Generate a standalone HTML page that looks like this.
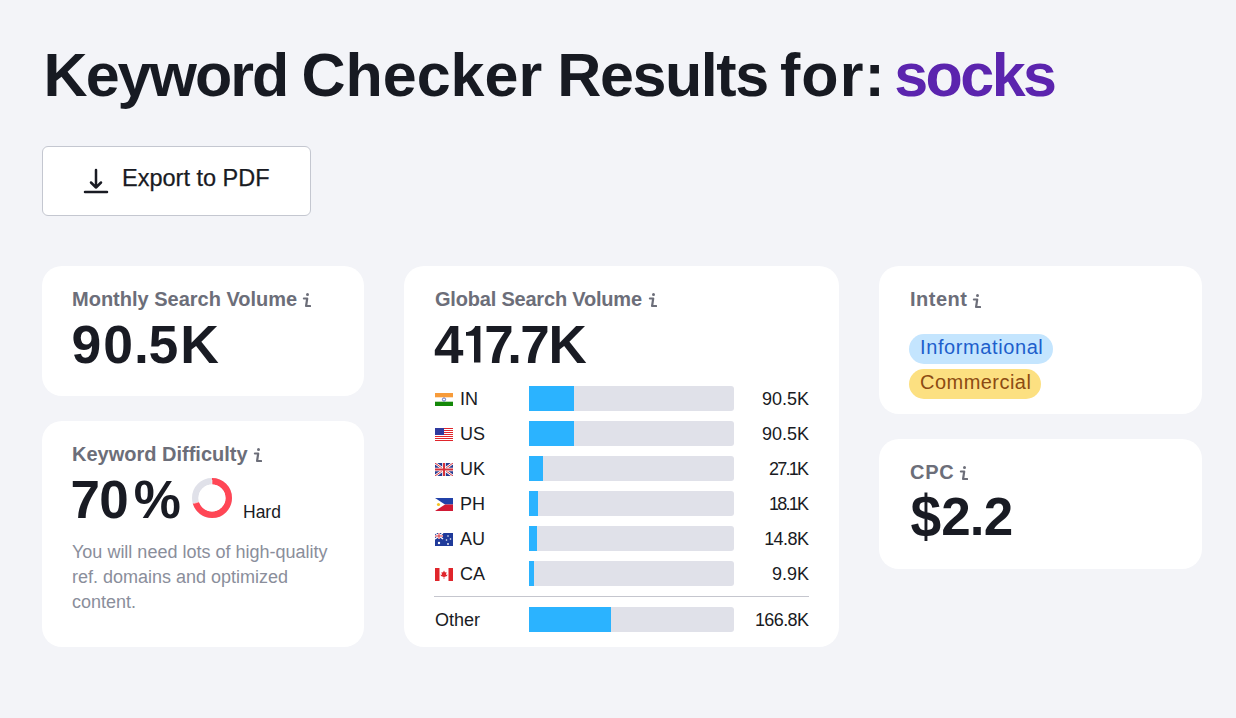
<!DOCTYPE html>
<html><head><meta charset="utf-8">
<style>
*{margin:0;padding:0;box-sizing:border-box}
html,body{width:1236px;height:718px;overflow:hidden;background:#f3f4f8;font-family:"Liberation Sans",sans-serif;color:#191b23}
.a{position:absolute;white-space:nowrap;line-height:1}
.card{position:absolute;background:#fff;border-radius:20px}
.ttl{top:45px;font-size:61px;font-weight:700;color:#171a22}
.lbl{font-weight:700;font-size:20px;color:#6c6e79}
.big{font-weight:700;font-size:53px;color:#191b23}
.row{font-size:18px;color:#191b23}
.bar{position:absolute;left:529px;width:205px;height:25px;background:#e0e1e9;border-radius:0 3px 3px 0;overflow:hidden}
.bar i{position:absolute;left:0;top:0;bottom:0;background:#2bb3ff}
.val{position:absolute;font-size:18px;line-height:1;white-space:nowrap}
.flag{position:absolute;left:435px;width:18px;height:13px}
.pill{position:absolute;height:30px;border-radius:15px}
svg.info{position:absolute;width:9px;height:15px}
</style></head><body>

<div class="a ttl" style="left:43.6px;letter-spacing:-2px">Keyword</div>
<div class="a ttl" style="left:301.4px">Checker</div>
<div class="a ttl" style="left:557.3px;letter-spacing:-1.43px">Results</div>
<div class="a ttl" style="left:779.9px;letter-spacing:1.1px">for:</div>
<div class="a ttl" style="left:894.2px;letter-spacing:-2.55px;color:#5b24ae">socks</div>

<div style="position:absolute;left:42px;top:146px;width:269px;height:70px;background:#fff;border:1px solid #c4c7d0;border-radius:6px"></div>
<svg style="position:absolute;left:0;top:0" width="120" height="220"><path d="M96 170V187.5M91 182.5L96 187.5L101 182.5M85 192H107" fill="none" stroke="#191b23" stroke-width="2.5" stroke-linecap="round" stroke-linejoin="round"/></svg>
<div class="a" style="left:122px;top:167px;font-size:23.5px;-webkit-text-stroke:0.25px #191b23">Export to PDF</div>

<div class="card" style="left:42px;top:266px;width:322px;height:130px"></div>
<div class="a lbl" style="left:72px;top:289px">Monthly Search Volume</div>
<span class="a big" style="left:71.45px;top:318px;font-size:53.5px;">9</span><span class="a big" style="left:103.28px;top:318px;font-size:53.5px;">0</span><span class="a big" style="left:134.07px;top:318px;font-size:53.5px;">.</span><span class="a big" style="left:148.45px;top:318px;font-size:53.5px;">5</span><span class="a big" style="left:180.22px;top:318px;font-size:53.5px;">K</span>

<div class="card" style="left:42px;top:421px;width:322px;height:226px"></div>
<div class="a lbl" style="left:72px;top:444px">Keyword Difficulty</div>
<span class="a big" style="left:70.52px;top:473px;font-size:53px;">7</span><span class="a big" style="left:99.30px;top:473px;font-size:53px;">0</span><span class="a big" style="left:133.78px;top:473px;font-size:53px;">%</span>
<svg style="position:absolute;left:192px;top:478px" width="40" height="40" viewBox="0 0 40 40"><circle cx="20" cy="20" r="16.75" fill="none" stroke="#e0e1e9" stroke-width="6.5"/><circle cx="20" cy="20" r="16.75" fill="none" stroke="#ff4655" stroke-width="6.5" stroke-dasharray="73.67 200" transform="rotate(-90 20 20)"/><path d="M20 2V10" stroke="#fff" stroke-width="0.6"/><path d="M20 20L1.5 25.5" stroke="#fff" stroke-width="0.6"/><circle cx="20" cy="20" r="13.5" fill="#fff"/></svg>
<div class="a" style="left:243px;top:504px;font-size:17.5px">Hard</div>
<div class="a" style="left:72px;top:540px;font-size:18px;line-height:25px;color:#8a8e9b">You will need lots of high-quality<br>ref. domains and optimized<br>content.</div>

<div class="card" style="left:404px;top:266px;width:435px;height:381px"></div>
<div class="a lbl" style="left:435px;top:289px;letter-spacing:-0.2px">Global Search Volume</div>
<span class="a big" style="left:434.10px;top:318px">4</span><span class="a big" style="left:484.32px;top:318px">7</span><span class="a big" style="left:507.30px;top:318px">.</span><span class="a big" style="left:520.32px;top:318px">7</span><span class="a big" style="left:548.5px;top:318px">K</span>
<svg style="position:absolute;left:0;top:0" width="500" height="370"><path d="M466 332C470.5 332 474 329 475.2 325.9H480.4V362.6H474V335.7H466Z" fill="#191b23"/></svg>
<svg class="flag" style="top:393px" viewBox="0 0 18 13"><rect width="18" height="13" fill="#fff"/><rect width="18" height="4.3" fill="#f79b3a"/><rect y="8.7" width="18" height="4.3" fill="#138808"/><circle cx="9" cy="6.5" r="1.6" fill="none" stroke="#3a4fb0" stroke-width="0.8"/></svg>
<div class="a row" style="left:460px;top:390px">IN</div>
<div class="bar" style="top:386px"><i style="width:45px"></i></div>
<div class="val" style="top:390px;right:427.00px;letter-spacing:0px">90.5K</div>
<svg class="flag" style="top:428px" viewBox="0 0 18 13"><rect width="18" height="13" fill="#fff"/><g fill="#e0252b"><rect y="0" width="18" height="1"/><rect y="2" width="18" height="1"/><rect y="4" width="18" height="1"/><rect y="6" width="18" height="1"/><rect y="8" width="18" height="1"/><rect y="10" width="18" height="1"/><rect y="12" width="18" height="1"/></g><rect width="9" height="7" fill="#2f3a9e"/></svg>
<div class="a row" style="left:460px;top:425px">US</div>
<div class="bar" style="top:421px"><i style="width:45px"></i></div>
<div class="val" style="top:425px;right:427.00px;letter-spacing:0px">90.5K</div>
<svg class="flag" style="top:463px" viewBox="0 0 18 13"><rect width="18" height="13" fill="#283a8f"/><path d="M0 0L18 13M18 0L0 13" stroke="#fff" stroke-width="2.6"/><path d="M0 0L18 13M18 0L0 13" stroke="#d6323c" stroke-width="1"/><path d="M9 0V13M0 6.5H18" stroke="#fff" stroke-width="3.6"/><path d="M9 0V13M0 6.5H18" stroke="#d6323c" stroke-width="2"/></svg>
<div class="a row" style="left:460px;top:460px">UK</div>
<div class="bar" style="top:456px"><i style="width:14px"></i></div>
<div class="val" style="top:460px;right:428.75px;letter-spacing:-1.75px">27.1K</div>
<svg class="flag" style="top:498px" viewBox="0 0 18 13"><rect width="18" height="6.5" fill="#2141a8"/><rect y="6.5" width="18" height="6.5" fill="#d11a35"/><path d="M0 0L10 6.5L0 13Z" fill="#fff"/><circle cx="3.5" cy="6.5" r="1.6" fill="#f5c323"/></svg>
<div class="a row" style="left:460px;top:495px">PH</div>
<div class="bar" style="top:491px"><i style="width:9px"></i></div>
<div class="val" style="top:495px;right:428.75px;letter-spacing:-1.75px">18.1K</div>
<svg class="flag" style="top:533px" viewBox="0 0 18 13"><rect width="18" height="13" fill="#1f3a9a"/><path d="M0 0L8 6M8 0L0 6" stroke="#fff" stroke-width="1.4"/><path d="M4 0V6M0 3H8" stroke="#fff" stroke-width="2"/><path d="M4 0V6M0 3H8" stroke="#d6323c" stroke-width="1"/><g fill="#fff"><circle cx="4" cy="10" r="1.2"/><circle cx="13" cy="3" r="0.8"/><circle cx="15.5" cy="6" r="0.8"/><circle cx="11.5" cy="7" r="0.8"/><circle cx="13" cy="11" r="0.9"/></g></svg>
<div class="a row" style="left:460px;top:530px">AU</div>
<div class="bar" style="top:526px"><i style="width:8px"></i></div>
<div class="val" style="top:530px;right:427.55px;letter-spacing:-0.55px">14.8K</div>
<svg class="flag" style="top:568px" viewBox="0 0 18 13"><rect width="18" height="13" fill="#fff"/><rect width="4.5" height="13" fill="#e0252b"/><rect x="13.5" width="4.5" height="13" fill="#e0252b"/><path d="M9 2.5L10 4.5L11.5 4L11 7L12.5 6.5L12 8L9.3 9V11H8.7V9L6 8L5.5 6.5L7 7L6.5 4L8 4.5Z" fill="#e0252b"/></svg>
<div class="a row" style="left:460px;top:565px">CA</div>
<div class="bar" style="top:561px"><i style="width:5px"></i></div>
<div class="val" style="top:565px;right:427.00px;letter-spacing:0px">9.9K</div>
<div style="position:absolute;left:434px;top:596px;width:375px;height:1px;background:#c5c6ce"></div>
<div class="a row" style="left:435px;top:611px">Other</div>
<div class="bar" style="top:607px"><i style="width:82px"></i></div>
<div class="val" style="top:611px;right:427.6px;letter-spacing:-0.6px">166.8K</div>

<div class="card" style="left:879px;top:266px;width:323px;height:148px"></div>
<div class="a lbl" style="left:910px;top:289px;letter-spacing:0.5px">Intent</div>
<div class="pill" style="left:909px;top:334px;width:144px;background:#c4e5fe"></div>
<div class="a" style="left:920px;top:337px;font-size:20px;color:#1d5fcc;letter-spacing:0.6px">Informational</div>
<div class="pill" style="left:909px;top:369px;width:132px;background:#fce081"></div>
<div class="a" style="left:920px;top:372px;font-size:20px;color:#8c4b12;letter-spacing:0.47px">Commercial</div>

<div class="card" style="left:879px;top:439px;width:323px;height:130px"></div>
<div class="a lbl" style="left:910px;top:462px;letter-spacing:0.7px">CPC</div>
<div class="a big" style="left:911px;top:490px;transform:scale(1.04,1.13);transform-origin:15px 27px">$</div><span class="a big" style="left:941.36px;top:490px;font-size:53px;">2</span><span class="a big" style="left:969.80px;top:490px;font-size:53px;">.</span><span class="a big" style="left:983.86px;top:490px;font-size:53px;">2</span>

<svg class="info" style="left:302px;top:292px" viewBox="0 0 9 15"><circle cx="5.5" cy="2.4" r="1.5" fill="#6c6e79"/><path d="M1.9 6.5H5.2L4.1 14H8.1" fill="none" stroke="#6c6e79" stroke-width="2.2" stroke-linecap="round" stroke-linejoin="round"/></svg>
<svg class="info" style="left:648px;top:292px" viewBox="0 0 9 15"><circle cx="5.5" cy="2.4" r="1.5" fill="#6c6e79"/><path d="M1.9 6.5H5.2L4.1 14H8.1" fill="none" stroke="#6c6e79" stroke-width="2.2" stroke-linecap="round" stroke-linejoin="round"/></svg>
<svg class="info" style="left:253px;top:447px" viewBox="0 0 9 15"><circle cx="5.5" cy="2.4" r="1.5" fill="#6c6e79"/><path d="M1.9 6.5H5.2L4.1 14H8.1" fill="none" stroke="#6c6e79" stroke-width="2.2" stroke-linecap="round" stroke-linejoin="round"/></svg>
<svg class="info" style="left:972px;top:293px" viewBox="0 0 9 15"><circle cx="5.5" cy="2.4" r="1.5" fill="#6c6e79"/><path d="M1.9 6.5H5.2L4.1 14H8.1" fill="none" stroke="#6c6e79" stroke-width="2.2" stroke-linecap="round" stroke-linejoin="round"/></svg>
<svg class="info" style="left:959px;top:465px" viewBox="0 0 9 15"><circle cx="5.5" cy="2.4" r="1.5" fill="#6c6e79"/><path d="M1.9 6.5H5.2L4.1 14H8.1" fill="none" stroke="#6c6e79" stroke-width="2.2" stroke-linecap="round" stroke-linejoin="round"/></svg>
</body></html>
